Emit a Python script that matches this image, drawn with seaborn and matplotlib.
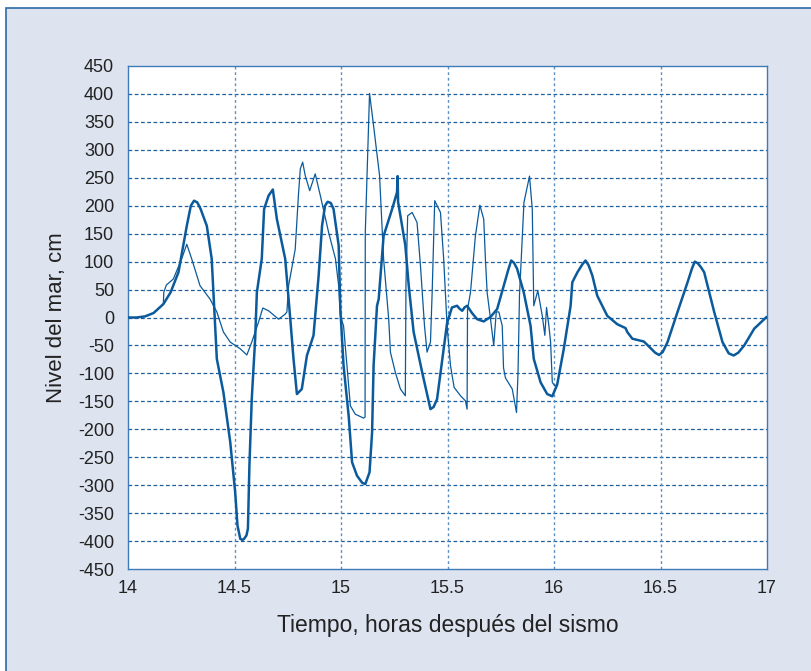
import matplotlib
matplotlib.use("Agg")
import matplotlib.pyplot as plt
import seaborn as sns
import pandas as pd
from matplotlib.patches import Rectangle

# thick line: time (hours) and sea level (cm)
t_thick = [14.0, 14.04, 14.08, 14.12, 14.166, 14.2, 14.237, 14.276, 14.295, 14.31, 14.325,
           14.34, 14.37, 14.393, 14.417, 14.448, 14.48, 14.503, 14.514, 14.527, 14.537,
           14.545, 14.556, 14.563, 14.570, 14.581, 14.597, 14.605, 14.628, 14.639, 14.66,
           14.68, 14.699, 14.738, 14.762, 14.777, 14.793, 14.816, 14.84, 14.871, 14.895,
           14.911, 14.925, 14.937, 14.952, 14.965, 14.989, 14.997, 15.012, 15.036, 15.052,
           15.075, 15.1, 15.114, 15.134, 15.146, 15.153, 15.169, 15.177, 15.2, 15.24,
           15.263, 15.266, 15.268, 15.287, 15.302, 15.318, 15.341, 15.381, 15.42, 15.435,
           15.451, 15.482, 15.498, 15.521, 15.545, 15.556, 15.569, 15.58, 15.592, 15.615,
           15.639, 15.67, 15.702, 15.733, 15.764, 15.785, 15.799, 15.812, 15.827, 15.858,
           15.89, 15.905, 15.937, 15.968, 15.992, 16.015, 16.046, 16.078, 16.086, 16.11,
           16.133, 16.148, 16.163, 16.18, 16.203, 16.25, 16.297, 16.336, 16.344, 16.368,
           16.422, 16.454, 16.475, 16.493, 16.51, 16.533, 16.58, 16.627, 16.648, 16.661,
           16.675, 16.69, 16.705, 16.752, 16.791, 16.82, 16.843, 16.865, 16.893, 16.94,
           16.998]
v_thick = [0, 0, 2, 8, 24, 45, 81, 164, 200, 209, 206,
           195, 164, 105, -74, -134, -223, -312, -372, -396, -398,
           -396, -390, -378, -265, -146, -38, 45, 105, 194, 218,
           229, 176, 105, -3, -74, -137, -128, -68, -32, 75,
           164, 200, 207, 205, 194, 129, 15, -86, -176, -259,
           -283, -296, -298, -277, -205, -86, 21, 33, 146, 194,
           224, 253, 207, 164, 129, 57, -26, -98, -164, -160,
           -146, -56, -10, 18, 21, 16, 12, 18, 21, 8,
           -3, -7, 1, 15, 57, 85, 102, 98, 87, 45,
           -15, -74, -116, -137, -141, -120, -56, 21, 63, 81,
           95, 102, 93, 75, 39, 3, -12, -19, -26, -38,
           -43, -55, -63, -67, -62, -44, 10, 63, 88, 100,
           97, 90, 81, 10, -44, -64, -68, -63, -50, -20,
           1]

# thin line
t_thin = [14.166, 14.168, 14.18, 14.213, 14.252, 14.276, 14.299, 14.338, 14.385, 14.417,
          14.448, 14.48, 14.527, 14.558, 14.581, 14.613, 14.633, 14.66, 14.707, 14.738,
          14.746, 14.754, 14.785, 14.801, 14.809, 14.82, 14.832, 14.853, 14.879, 14.903,
          14.942, 14.974, 14.989, 14.997, 15.012, 15.044, 15.067, 15.106, 15.113, 15.114,
          15.134, 15.153, 15.181, 15.2, 15.224, 15.232, 15.255, 15.279, 15.302, 15.305,
          15.313, 15.334, 15.357, 15.373, 15.392, 15.404, 15.42, 15.428, 15.44, 15.467,
          15.482, 15.498, 15.514, 15.531, 15.561, 15.584, 15.592, 15.594, 15.608, 15.631,
          15.652, 15.67, 15.678, 15.686, 15.702, 15.717, 15.729, 15.741, 15.757, 15.763,
          15.772, 15.804, 15.824, 15.831, 15.838, 15.859, 15.885, 15.898, 15.905, 15.924,
          15.945, 15.957, 15.965, 15.976, 15.984, 15.992, 16.003, 16.016]
v_thin = [24, 45, 58, 69, 105, 131, 105, 57, 33, 10,
          -26, -44, -56, -67, -44, -8, 17, 12, -3, 6,
          10, 57, 122, 224, 266, 278, 254, 227, 257, 218,
          152, 105, 57, 3, -15, -158, -173, -180, -178, 152,
          401, 343, 254, 105, -3, -62, -98, -128, -140, 60,
          182, 188, 170, 93, -15, -62, -44, 45, 209, 188,
          105, -15, -86, -125, -140, -149, -164, 15, 45, 146,
          201, 176, 105, 45, -3, -50, 10, 10, -15, -90,
          -108, -128, -170, -100, 40, 206, 253, 194, 21, 48,
          3, -32, 18, -15, -44, -116, -122, -120]

yticks = list(range(-450, 451, 50))
xticks = [14, 14.5, 15, 15.5, 16, 16.5, 17]
xlabels = ["14", "14.5", "15", "15.5", "16", "16.5", "17"]

line_col = "#0b5a9b"
bg_col = "#dde3ef"
text_col = "#222222"

sns.set_style("white")
plt.rcParams["font.family"] = ["Liberation Sans", "DejaVu Sans"]

fig = plt.figure(figsize=(8.12, 6.71), dpi=100, facecolor="white")
frame = Rectangle((6 / 812, -0.01), 1.0, 1 - 8 / 671 + 0.01,
                  transform=fig.transFigure, facecolor=bg_col,
                  edgecolor="#2d6aa6", lw=1.2, zorder=-5)
fig.add_artist(frame)

ax = fig.add_axes([128 / 812, 1 - 569 / 671, (767 - 128) / 812, (569 - 66) / 671])
ax.set_zorder(2)
ax.set_facecolor("white")

df_thick = pd.DataFrame({"t": t_thick, "v": v_thick})
df_thin = pd.DataFrame({"t": t_thin, "v": v_thin})
sns.lineplot(data=df_thin, x="t", y="v", ax=ax, color=line_col, lw=0.9,
             sort=False, estimator=None, zorder=3)
sns.lineplot(data=df_thick, x="t", y="v", ax=ax, color=line_col, lw=1.8,
             sort=False, estimator=None, zorder=4)

ax.set_xlim(14, 17)
ax.set_ylim(-450, 450)
ax.set_yticks(yticks)
ax.set_yticklabels([str(y) for y in yticks])
ax.set_xticks(xticks)
ax.set_xticklabels(xlabels)

for y in yticks[1:-1]:
    ax.axhline(y, color="#1d5f9f", lw=0.9, ls=(0, (3, 2)), zorder=1)
for x in xticks[1:-1]:
    ax.axvline(x, color="#5a8fc4", lw=1.0, ls=(0, (2, 2)), zorder=1)

for s in ax.spines.values():
    s.set_color("#3f7bb8")
    s.set_linewidth(1.0)

ax.tick_params(axis="both", labelsize=13, colors=text_col, length=3,
               direction="out", width=0.8)
ax.tick_params(axis="y", color="#3f7bb8", pad=7)
ax.tick_params(axis="x", color="#3f7bb8", length=0, pad=8)

ax.set_xlabel("Tiempo, horas después del sismo", fontsize=16.5, color=text_col, labelpad=12)
ax.set_ylabel("Nivel del mar, cm", fontsize=16, color=text_col, labelpad=8)

fig.savefig("out.png", dpi=100, facecolor=fig.get_facecolor())
